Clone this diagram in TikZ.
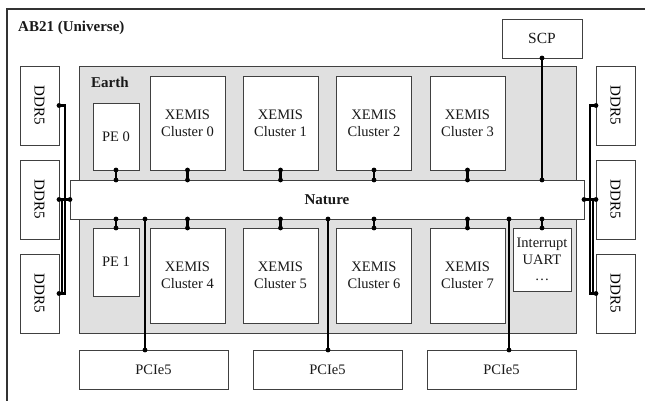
\documentclass[tikz,border=0pt]{standalone}
\usepackage{fontspec}
\setmainfont{Liberation Serif}
\newcommand\busdot[1]{\fill[black] (#1) circle (2.4);}
\newcommand\link[2]{\draw[bus] (#1) -- (#2); \busdot{#1} \busdot{#2}}
\begin{document}
\begin{tikzpicture}[x=1pt,y=-1pt,
  blk/.style={draw=black!75, fill=white, line width=0.9pt, inner sep=0pt, outer sep=0pt,
    align=center, text=black!90, font=\fontsize{14.5}{17}\selectfont},
  ddr/.style={blk, minimum width=39pt, minimum height=79pt},
  ddrtext/.style={rotate=-90, font=\fontsize{15}{17}\selectfont},
  pebox/.style={blk, minimum width=46pt},
  cluster/.style={blk, minimum width=75pt},
  pcie/.style={blk, minimum width=149pt, minimum height=39pt},
  region/.style={draw=black!75, fill=black!12, line width=0.9pt, inner sep=0pt, outer sep=0pt},
  heading/.style={anchor=base west, inner sep=0pt, text=black!90, font=\fontsize{15}{17}\selectfont\bfseries},
  bus/.style={line width=2.4pt, black},
]
% page and outer frame (open to the right and bottom)
\useasboundingbox (0,0) rectangle (645,400);
\fill[white] (0,0) rectangle (645,400);
\begin{scope}
  \clip (0,0) rectangle (645,400);
  \draw[black!80, line width=1.4pt] (7,9) rectangle (700,450);
\end{scope}
\node[heading] (title) at (18,31) {AB21 (Universe)};

% Earth region and Nature interconnect
\node[region, minimum width=497pt, minimum height=267pt] (earth) at (327.5,199.5) {};
\node[heading] (earthlbl) at (91,87) {Earth};
\node[blk, minimum width=514pt, minimum height=39pt, font=\fontsize{15}{17}\selectfont\bfseries] (nature) at (327,199.5) {Nature};

% memory channels
\node[ddr] (ddrL1) at (39.5,105.5) {}; \node[ddrtext] at (ddrL1) {DDR5};
\node[ddr] (ddrL2) at (39.5,199.5) {}; \node[ddrtext] at (ddrL2) {DDR5};
\node[ddr] (ddrL3) at (39.5,293.5) {}; \node[ddrtext] at (ddrL3) {DDR5};
\node[ddr] (ddrR1) at (615.5,105.5) {}; \node[ddrtext] at (ddrR1) {DDR5};
\node[ddr] (ddrR2) at (615.5,199.5) {}; \node[ddrtext] at (ddrR2) {DDR5};
\node[ddr] (ddrR3) at (615.5,293.5) {}; \node[ddrtext] at (ddrR3) {DDR5};

% processing elements and clusters
\node[pebox, minimum height=67pt] (pe0) at (116,136.5) {PE 0};
\node[pebox, minimum height=68pt] (pe1) at (116,262) {PE 1};
\node[cluster, minimum height=94pt] (c0) at (187.5,123) {XEMIS\\Cluster 0};
\node[cluster, minimum height=94pt] (c1) at (280.5,123) {XEMIS\\Cluster 1};
\node[cluster, minimum height=94pt] (c2) at (374,123) {XEMIS\\Cluster 2};
\node[cluster, minimum height=94pt] (c3) at (467.5,123) {XEMIS\\Cluster 3};
\node[cluster, minimum height=95pt] (c4) at (187.5,275.5) {XEMIS\\Cluster 4};
\node[cluster, minimum height=95pt] (c5) at (280.5,275.5) {XEMIS\\Cluster 5};
\node[cluster, minimum height=95pt] (c6) at (374,275.5) {XEMIS\\Cluster 6};
\node[cluster, minimum height=95pt] (c7) at (467.5,275.5) {XEMIS\\Cluster 7};
\node[blk, minimum width=58pt, minimum height=63pt, font=\fontsize{14.5}{16.5}\selectfont] (irq) at (542,259.5) {Interrupt\\UART\\\ldots};
\node[blk, minimum width=80pt, minimum height=39pt, font=\fontsize{15.5}{17}\selectfont] (scp) at (542,38.5) {SCP};

% PCIe controllers
\node[pcie] (pcie1) at (153.5,369.5) {PCIe5};
\node[pcie] (pcie2) at (327.5,369.5) {PCIe5};
\node[pcie] (pcie3) at (501.5,369.5) {PCIe5};

% links to the interconnect
\link{pe0.south}{pe0.south |- nature.north}
\link{c0.south}{c0.south |- nature.north}
\link{c1.south}{c1.south |- nature.north}
\link{c2.south}{c2.south |- nature.north}
\link{c3.south}{c3.south |- nature.north}
\link{scp.south}{scp.south |- nature.north}
\link{pe1.north}{pe1.north |- nature.south}
\link{c4.north}{c4.north |- nature.south}
\link{c5.north}{c5.north |- nature.south}
\link{c6.north}{c6.north |- nature.south}
\link{c7.north}{c7.north |- nature.south}
\link{irq.north}{irq.north |- nature.south}
\link{nature.south -| 145,0}{pcie1.north -| 145,0}
\link{nature.south -| 328,0}{pcie2.north -| 328,0}
\link{nature.south -| 509,0}{pcie3.north -| 509,0}

% memory buses
\draw[bus] (ddrL1.east) -- ++(6,0) |- (ddrL3.east);
\draw[bus] (ddrL3.east) -- ++(3,0) |- (nature.west);
\link{ddrL2.east}{nature.west}
\busdot{ddrL1.east} \busdot{ddrL3.east}
\draw[bus] (ddrR1.west) -- ++(-6,0) |- (ddrR3.west);
\draw[bus] (ddrR3.west) -- ++(-3,0) |- (nature.east);
\link{ddrR2.west}{nature.east}
\busdot{ddrR1.west} \busdot{ddrR3.west}
\end{tikzpicture}
\end{document}
